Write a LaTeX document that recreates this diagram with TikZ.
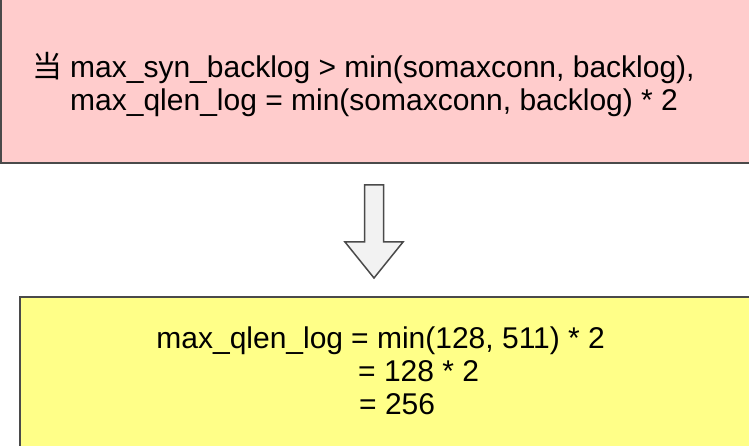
\documentclass[tikz,border=0pt]{standalone}
\usepackage{fontspec}
\setmainfont{Liberation Sans}
\newfontfamily\cjk{Noto Sans CJK SC}
\usepackage{xcolor}
\usetikzlibrary{matrix}
\definecolor{condpink}{HTML}{FFCCCC}
\definecolor{resultyellow}{HTML}{FFFF88}
\definecolor{edgegray}{HTML}{4A4A4A}
\definecolor{arrowgray}{HTML}{F2F2F2}
\tikzset{
textgrid/.style={
  matrix of nodes,
  row sep=0pt,
  column sep=8pt,
  nodes={inner sep=0pt,anchor=base west,font=\fontsize{30}{33}\selectfont},
  text height=22pt,
  text depth=11pt,
  nodes in empty cells
},
condbox/.style={draw=edgegray,line width=1.5pt,fill=condpink},
resultbox/.style={draw=edgegray,line width=1.5pt,fill=resultyellow},
blockarrow/.style={draw=edgegray,line width=1.5pt,fill=arrowgray,line join=miter},
}

\begin{document}
\begin{tikzpicture}[x=1pt,y=-1pt]
\useasboundingbox (0,0) rectangle (749,446);
% the boxes
\path[condbox] (1,-10) rectangle (770,163);
\path[resultbox] (20,297) rectangle (770,470);
% the arrow
\path[blockarrow] (364.5,185) -- (383.5,185) -- (383.5,242) -- (403,242)
  -- (374,278) -- (345,242) -- (364.5,242) -- cycle;
% the texts
\matrix (cond) [textgrid,matrix anchor=cond-1-2.base west] at (70,78)
{
{\cjk 当} & max\_syn\_backlog > min(somaxconn, backlog), \\
 & max\_qlen\_log = min(somaxconn, backlog) * 2 \\
};
\matrix (result) [textgrid,matrix anchor=result-1-2.base west] at (351,348)
{
max\_qlen\_log & = min(128, 511) * 2 \\
 & \hspace*{7pt}= 128 * 2 \\
 & \hspace*{8pt}= 256 \\
};
\end{tikzpicture}
\end{document}
